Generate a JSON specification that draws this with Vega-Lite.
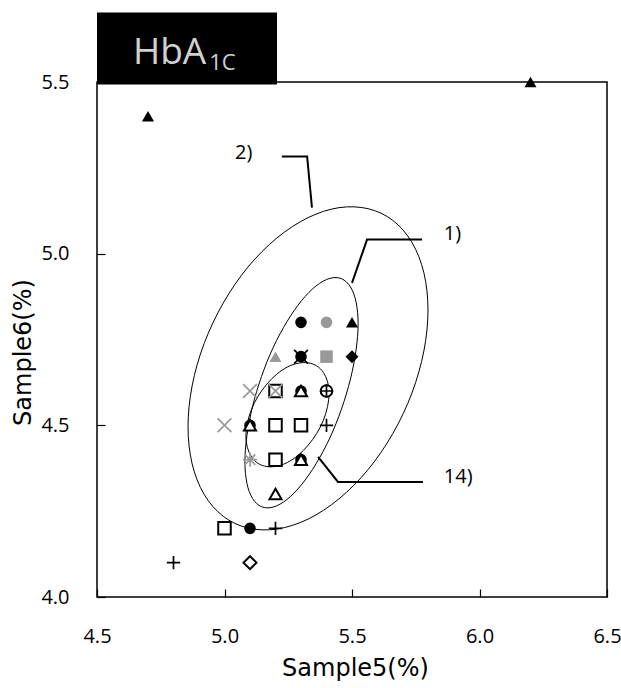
{
  "$schema": "https://vega.github.io/schema/vega-lite/v6.json",
  "width": 510,
  "height": 515,
  "autosize": {"type": "none"},
  "padding": {"left": 97, "top": 82, "right": 14, "bottom": 91},
  "config": {
    "view": {"stroke": "#000000", "strokeWidth": 1.5},
    "font": "Open Sans",
    "axis": {"labelFont": "Open Sans", "titleFont": "DejaVu Sans"}
  },
  "datasets": {
    "ellipses": [
      {"e": "2", "k": 0, "x": 5.798, "y": 4.836}, {"e": "2", "k": 1, "x": 5.782, "y": 4.944},
      {"e": "2", "k": 2, "x": 5.735, "y": 5.033}, {"e": "2", "k": 3, "x": 5.660, "y": 5.097},
      {"e": "2", "k": 4, "x": 5.563, "y": 5.131}, {"e": "2", "k": 5, "x": 5.449, "y": 5.134},
      {"e": "2", "k": 6, "x": 5.328, "y": 5.105}, {"e": "2", "k": 7, "x": 5.206, "y": 5.046},
      {"e": "2", "k": 8, "x": 5.092, "y": 4.961}, {"e": "2", "k": 9, "x": 4.995, "y": 4.856},
      {"e": "2", "k": 10, "x": 4.920, "y": 4.738}, {"e": "2", "k": 11, "x": 4.873, "y": 4.615},
      {"e": "2", "k": 12, "x": 4.857, "y": 4.496}, {"e": "2", "k": 13, "x": 4.873, "y": 4.388},
      {"e": "2", "k": 14, "x": 4.920, "y": 4.299}, {"e": "2", "k": 15, "x": 4.995, "y": 4.235},
      {"e": "2", "k": 16, "x": 5.092, "y": 4.201}, {"e": "2", "k": 17, "x": 5.206, "y": 4.198},
      {"e": "2", "k": 18, "x": 5.328, "y": 4.227}, {"e": "2", "k": 19, "x": 5.449, "y": 4.286},
      {"e": "2", "k": 20, "x": 5.563, "y": 4.371}, {"e": "2", "k": 21, "x": 5.660, "y": 4.476},
      {"e": "2", "k": 22, "x": 5.735, "y": 4.594}, {"e": "2", "k": 23, "x": 5.782, "y": 4.717},
      {"e": "1", "k": 0, "x": 5.524, "y": 4.796}, {"e": "1", "k": 1, "x": 5.516, "y": 4.859},
      {"e": "1", "k": 2, "x": 5.494, "y": 4.903}, {"e": "1", "k": 3, "x": 5.459, "y": 4.927},
      {"e": "1", "k": 4, "x": 5.413, "y": 4.928}, {"e": "1", "k": 5, "x": 5.359, "y": 4.906},
      {"e": "1", "k": 6, "x": 5.302, "y": 4.863}, {"e": "1", "k": 7, "x": 5.245, "y": 4.802},
      {"e": "1", "k": 8, "x": 5.191, "y": 4.727}, {"e": "1", "k": 9, "x": 5.145, "y": 4.642},
      {"e": "1", "k": 10, "x": 5.110, "y": 4.555}, {"e": "1", "k": 11, "x": 5.088, "y": 4.470},
      {"e": "1", "k": 12, "x": 5.080, "y": 4.394}, {"e": "1", "k": 13, "x": 5.088, "y": 4.331},
      {"e": "1", "k": 14, "x": 5.110, "y": 4.287}, {"e": "1", "k": 15, "x": 5.145, "y": 4.263},
      {"e": "1", "k": 16, "x": 5.191, "y": 4.262}, {"e": "1", "k": 17, "x": 5.245, "y": 4.284},
      {"e": "1", "k": 18, "x": 5.302, "y": 4.327}, {"e": "1", "k": 19, "x": 5.359, "y": 4.388},
      {"e": "1", "k": 20, "x": 5.413, "y": 4.463}, {"e": "1", "k": 21, "x": 5.459, "y": 4.548},
      {"e": "1", "k": 22, "x": 5.494, "y": 4.635}, {"e": "1", "k": 23, "x": 5.516, "y": 4.720},
      {"e": "14", "k": 0, "x": 5.410, "y": 4.593}, {"e": "14", "k": 1, "x": 5.404, "y": 4.627},
      {"e": "14", "k": 2, "x": 5.388, "y": 4.654}, {"e": "14", "k": 3, "x": 5.362, "y": 4.673},
      {"e": "14", "k": 4, "x": 5.328, "y": 4.682}, {"e": "14", "k": 5, "x": 5.289, "y": 4.681},
      {"e": "14", "k": 6, "x": 5.247, "y": 4.670}, {"e": "14", "k": 7, "x": 5.205, "y": 4.649},
      {"e": "14", "k": 8, "x": 5.166, "y": 4.620}, {"e": "14", "k": 9, "x": 5.132, "y": 4.585},
      {"e": "14", "k": 10, "x": 5.106, "y": 4.547}, {"e": "14", "k": 11, "x": 5.090, "y": 4.507},
      {"e": "14", "k": 12, "x": 5.084, "y": 4.469}, {"e": "14", "k": 13, "x": 5.090, "y": 4.435},
      {"e": "14", "k": 14, "x": 5.106, "y": 4.408}, {"e": "14", "k": 15, "x": 5.132, "y": 4.389},
      {"e": "14", "k": 16, "x": 5.166, "y": 4.380}, {"e": "14", "k": 17, "x": 5.205, "y": 4.381},
      {"e": "14", "k": 18, "x": 5.247, "y": 4.392}, {"e": "14", "k": 19, "x": 5.289, "y": 4.413},
      {"e": "14", "k": 20, "x": 5.328, "y": 4.442}, {"e": "14", "k": 21, "x": 5.362, "y": 4.477},
      {"e": "14", "k": 22, "x": 5.388, "y": 4.515}, {"e": "14", "k": 23, "x": 5.404, "y": 4.555}
    ],
    "leaders": [
      {"g": "2", "k": 0, "x": 5.343, "y": 5.134}, {"g": "2", "k": 1, "x": 5.324, "y": 5.283}, {"g": "2", "k": 2, "x": 5.225, "y": 5.283},
      {"g": "1", "k": 0, "x": 5.500, "y": 4.915}, {"g": "1", "k": 1, "x": 5.559, "y": 5.041}, {"g": "1", "k": 2, "x": 5.775, "y": 5.041},
      {"g": "14", "k": 0, "x": 5.367, "y": 4.408}, {"g": "14", "k": 1, "x": 5.445, "y": 4.335}, {"g": "14", "k": 2, "x": 5.778, "y": 4.335}
    ],
    "labels": [
      {"x": 5.041, "y": 5.294, "t": "2)"},
      {"x": 5.86, "y": 5.058, "t": "1)"},
      {"x": 5.86, "y": 4.35, "t": "14)"}
    ],
    "points": [
      {"x": 4.7, "y": 5.4, "glyph": "triangle", "kind": "solid", "tone": "black"},
      {"x": 6.2, "y": 5.5, "glyph": "triangle", "kind": "solid", "tone": "black"},
      {"x": 5.3, "y": 4.8, "glyph": "circle", "kind": "solid", "tone": "black"},
      {"x": 5.4, "y": 4.8, "glyph": "circle", "kind": "solid", "tone": "gray"},
      {"x": 5.5, "y": 4.8, "glyph": "triangle", "kind": "solid", "tone": "black"},
      {"x": 5.2, "y": 4.7, "glyph": "triangle", "kind": "solid", "tone": "gray"},
      {"x": 5.3, "y": 4.7, "glyph": "circle", "kind": "solid", "tone": "black"},
      {"x": 5.3, "y": 4.7, "glyph": "cross", "kind": "line", "tone": "black"},
      {"x": 5.4, "y": 4.7, "glyph": "square", "kind": "solid", "tone": "gray"},
      {"x": 5.5, "y": 4.7, "glyph": "diamond", "kind": "solid", "tone": "black"},
      {"x": 5.1, "y": 4.6, "glyph": "cross", "kind": "line", "tone": "gray"},
      {"x": 5.2, "y": 4.6, "glyph": "square", "kind": "open", "tone": "black"},
      {"x": 5.2, "y": 4.6, "glyph": "cross", "kind": "line", "tone": "gray"},
      {"x": 5.3, "y": 4.6, "glyph": "circle", "kind": "solid", "tone": "black"},
      {"x": 5.3, "y": 4.6, "glyph": "triangle", "kind": "open", "tone": "black"},
      {"x": 5.4, "y": 4.6, "glyph": "circle", "kind": "open", "tone": "black"},
      {"x": 5.4, "y": 4.6, "glyph": "plus", "kind": "line", "tone": "black"},
      {"x": 5.0, "y": 4.5, "glyph": "cross", "kind": "line", "tone": "gray"},
      {"x": 5.1, "y": 4.5, "glyph": "circle", "kind": "solid", "tone": "black"},
      {"x": 5.1, "y": 4.5, "glyph": "triangle", "kind": "open", "tone": "black"},
      {"x": 5.2, "y": 4.5, "glyph": "square", "kind": "open", "tone": "black"},
      {"x": 5.3, "y": 4.5, "glyph": "square", "kind": "open", "tone": "black"},
      {"x": 5.4, "y": 4.5, "glyph": "plus", "kind": "line", "tone": "black"},
      {"x": 5.1, "y": 4.4, "glyph": "star", "kind": "line", "tone": "gray"},
      {"x": 5.2, "y": 4.4, "glyph": "square", "kind": "open", "tone": "black"},
      {"x": 5.3, "y": 4.4, "glyph": "circle", "kind": "solid", "tone": "black"},
      {"x": 5.3, "y": 4.4, "glyph": "triangle", "kind": "open", "tone": "black"},
      {"x": 5.2, "y": 4.3, "glyph": "triangle", "kind": "open", "tone": "black"},
      {"x": 5.0, "y": 4.2, "glyph": "square", "kind": "open", "tone": "black"},
      {"x": 5.1, "y": 4.2, "glyph": "circle", "kind": "solid", "tone": "black"},
      {"x": 5.2, "y": 4.2, "glyph": "plus", "kind": "line", "tone": "black"},
      {"x": 4.8, "y": 4.1, "glyph": "plus", "kind": "line", "tone": "black"},
      {"x": 5.1, "y": 4.1, "glyph": "diamond", "kind": "open", "tone": "black"}
    ],
    "titlebox": [
      {"x": 4.5, "x2": 5.206, "y": 5.4927, "y2": 5.7026}
    ],
    "titletext": [
      {"x": 4.641, "y": 5.551, "t": "HbA", "part": "main"},
      {"x": 4.94, "y": 5.5364, "t": "1C", "part": "sub"}
    ]
  },
  "encoding": {
    "x": {
      "field": "x", "type": "quantitative",
      "scale": {"domain": [4.5, 6.5], "nice": false, "zero": false},
      "axis": {
        "values": [4.5, 5, 5.5, 6, 6.5], "format": ".1f", "domain": false, "grid": false,
        "tickSize": -8, "tickColor": "#000000", "tickWidth": 1.2,
        "labelPadding": 37, "labelFontSize": 20, "labelColor": "#000000",
        "labelFlush": false, "labelOverlap": false,
        "title": "Sample5(%)", "titleFontSize": 24, "titleFontWeight": "normal", "titleColor": "#000000",
        "titleX": 258, "titleY": 78, "titleBaseline": "alphabetic"
      }
    },
    "y": {
      "field": "y", "type": "quantitative",
      "scale": {"domain": [4, 5.5], "nice": false, "zero": false},
      "axis": {
        "values": [4, 4.5, 5, 5.5], "format": ".1f", "domain": false, "grid": false,
        "tickSize": -8, "tickColor": "#000000", "tickWidth": 1.2,
        "labelPadding": 36, "labelFontSize": 20, "labelColor": "#000000",
        "labelFlush": false, "labelOverlap": false,
        "title": "Sample6(%)", "titleFontSize": 24, "titleFontWeight": "normal", "titleColor": "#000000",
        "titleX": -62, "titleY": 270, "titleBaseline": "bottom"
      }
    }
  },
  "layer": [
    {
      "data": {"name": "ellipses"},
      "mark": {"type": "line", "interpolate": "cardinal-closed", "stroke": "#000000", "strokeWidth": 1},
      "encoding": {"detail": {"field": "e"}, "order": {"field": "k", "type": "quantitative"}}
    },
    {
      "data": {"name": "leaders"},
      "mark": {"type": "line", "stroke": "#000000", "strokeWidth": 2},
      "encoding": {"detail": {"field": "g"}, "order": {"field": "k", "type": "quantitative"}}
    },
    {
      "data": {"name": "labels"},
      "mark": {"type": "text", "align": "left", "baseline": "middle", "fontSize": 20, "color": "#000000"},
      "encoding": {"text": {"field": "t"}}
    },
    {
      "data": {"name": "points"},
      "transform": [{"filter": "datum.kind == 'solid'"}],
      "mark": {"type": "point", "filled": true, "opacity": 1, "strokeWidth": 0},
      "encoding": {
        "shape": {"field": "glyph", "type": "nominal", "legend": null,
          "scale": {"domain": ["circle", "triangle", "square", "diamond", "plus", "cross", "star"],
                    "range": ["circle", "triangle-up", "square", "diamond", "M-1,0H1M0,-1V1", "M-1,-1L1,1M1,-1L-1,1", "M-1,0H1M0,-1V1M-0.75,-0.75L0.75,0.75M0.75,-0.75L-0.75,0.75"]}},
        "size": {"field": "glyph", "type": "nominal", "legend": null,
          "scale": {"domain": ["circle", "triangle", "square", "diamond", "plus", "cross", "star"],
                    "range": [135, 200, 130, 190, 230, 270, 270]}},
        "color": {"field": "tone", "type": "nominal", "legend": null,
          "scale": {"domain": ["black", "gray"], "range": ["#000000", "#999999"]}}
      }
    },
    {
      "data": {"name": "points"},
      "transform": [{"filter": "datum.kind == 'open'"}],
      "mark": {"type": "point", "filled": true, "opacity": 1, "fill": "#ffffff", "stroke": "#000000", "strokeWidth": 2},
      "encoding": {
        "shape": {"field": "glyph", "type": "nominal", "legend": null},
        "size": {"field": "glyph", "type": "nominal", "legend": null}
      }
    },
    {
      "data": {"name": "points"},
      "transform": [{"filter": "datum.kind == 'line'"}],
      "mark": {"type": "point", "filled": false, "opacity": 1, "strokeWidth": 1.7},
      "encoding": {
        "shape": {"field": "glyph", "type": "nominal", "legend": null},
        "size": {"field": "glyph", "type": "nominal", "legend": null},
        "color": {"field": "tone", "type": "nominal", "legend": null}
      }
    },
    {
      "data": {"name": "titlebox"},
      "mark": {"type": "rect", "color": "#000000", "opacity": 1},
      "encoding": {"x2": {"field": "x2"}, "y2": {"field": "y2"}}
    },
    {
      "data": {"name": "titletext"},
      "transform": [{"filter": "datum.part == 'main'"}],
      "mark": {"type": "text", "align": "left", "baseline": "alphabetic", "fontSize": 37, "color": "#d0d0d0"},
      "encoding": {"text": {"field": "t"}}
    },
    {
      "data": {"name": "titletext"},
      "transform": [{"filter": "datum.part == 'sub'"}],
      "mark": {"type": "text", "align": "left", "baseline": "alphabetic", "fontSize": 22, "color": "#d0d0d0"},
      "encoding": {"text": {"field": "t"}}
    }
  ]
}
